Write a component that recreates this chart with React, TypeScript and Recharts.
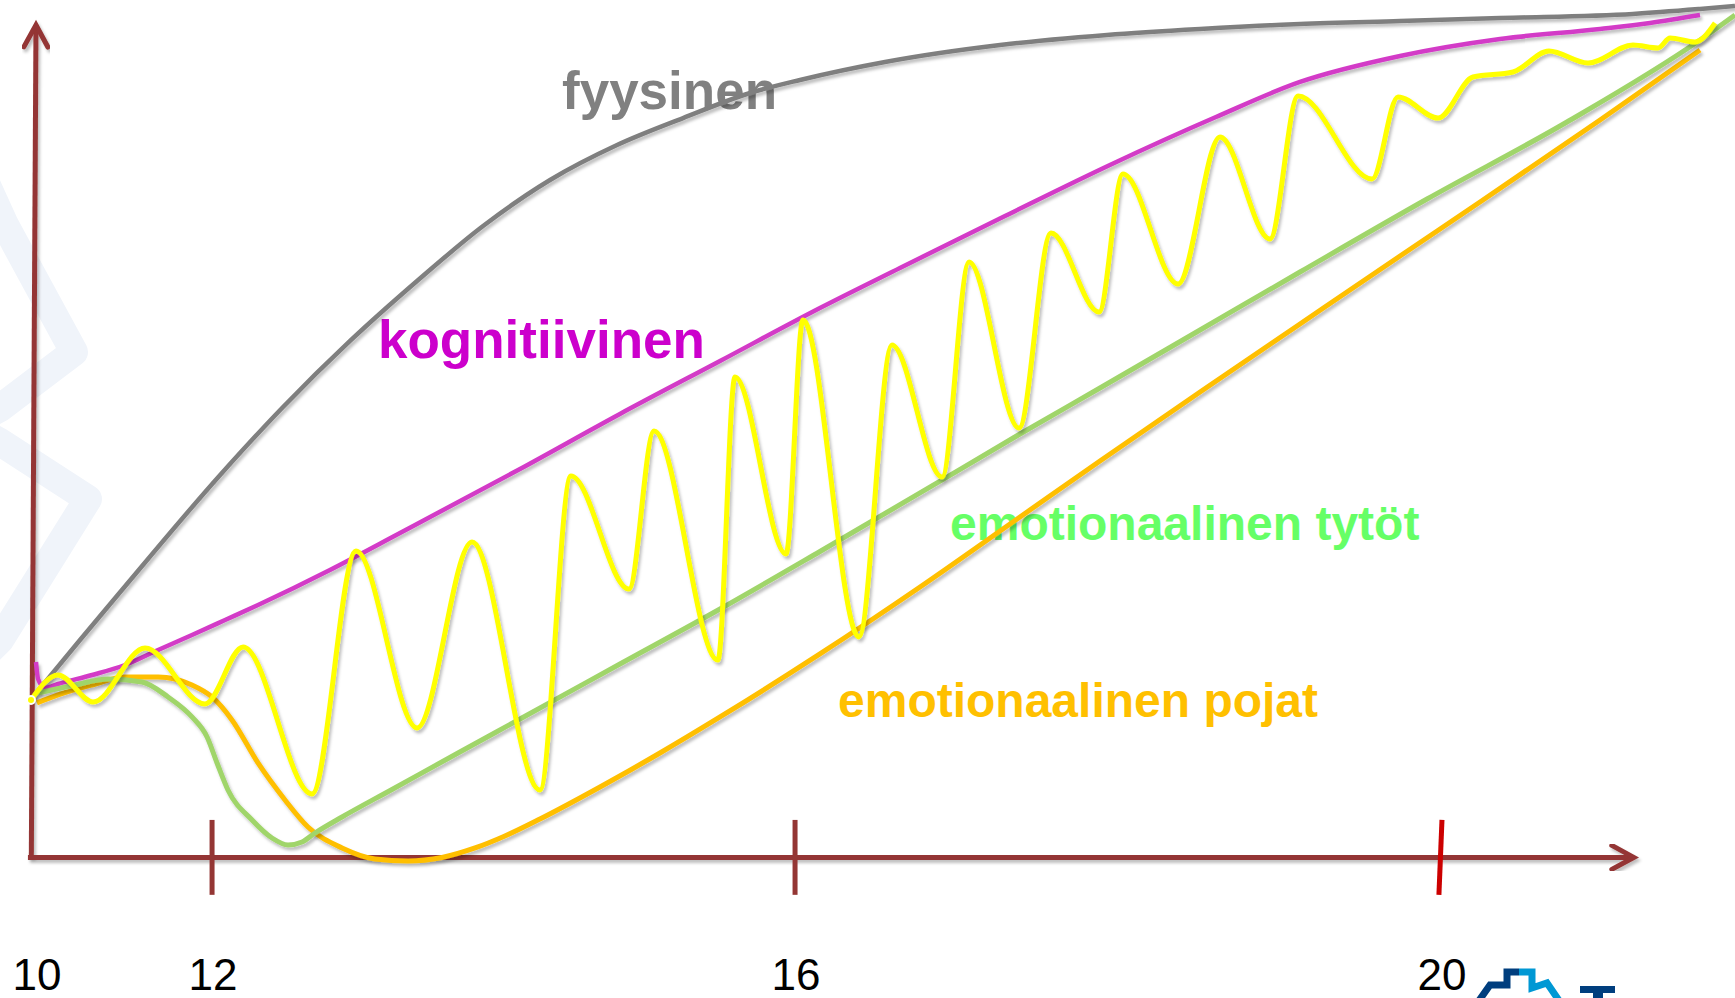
import React from 'react';
import { LineChart, Line, XAxis, YAxis, ReferenceLine } from 'recharts';

// x: position along the age axis (0 = age 10, 100 = arrow tip), y: development level
const fyysinen: [number, number][] = [
  [0.05, 19.27], [2.98, 26.12], [5.59, 32.12], [11.76, 46.06], [15.62, 54.11],
  [19.79, 62.04], [23.96, 69.24], [28.07, 75.85], [32.24, 81.38], [36.41, 85.58],
  [40.52, 88.82], [44.69, 91.83], [47.8, 93.39], [53.09, 95.55], [60.25, 97.59],
  [66.91, 98.8], [72.7, 99.52], [78.92, 100.12], [85.15, 100.48], [91.37, 100.84],
  [99.65, 101.32], [103.82, 101.92], [106.0, 102.28],
];

const kognitiivinen: [number, number][] = [
  [0.24, 23.47], [0.37, 21.43], [0.8, 20.35], [1.61, 20.83], [3.73, 21.91],
  [5.78, 23.11], [7.84, 24.92], [9.95, 26.72], [12.01, 28.52], [14.06, 30.32],
  [18.54, 34.53], [22.9, 38.97], [30.37, 46.66], [36.59, 53.27], [42.82, 59.63],
  [49.04, 66.0], [54.02, 70.81], [60.56, 77.05], [67.09, 83.18], [73.69, 88.94],
  [78.92, 93.15], [85.15, 96.27], [91.37, 98.31], [97.6, 99.52], [100.71, 100.24],
  [103.82, 101.2],
];

const tytot: [number, number][] = [
  [0.37, 19.75], [2.67, 20.71], [4.72, 21.43], [6.84, 21.07], [8.46, 19.27],
  [9.95, 16.87], [10.89, 14.46], [11.51, 11.34], [12.19, 8.1], [13.69, 4.49],
  [14.93, 2.33], [15.93, 1.49], [16.8, 1.85], [17.61, 2.93], [19.29, 4.85],
  [22.4, 8.16], [26.51, 12.54], [30.37, 16.63], [36.59, 23.23], [42.82, 29.84],
  [49.04, 36.75], [55.27, 43.78], [61.49, 50.86], [66.47, 56.39], [72.7, 63.36],
  [78.92, 70.32], [86.83, 79.09], [95.54, 88.34], [103.82, 98.19], [106.0, 101.2],
];

const pojat: [number, number][] = [
  [0.3, 18.55], [1.61, 19.51], [3.73, 20.71], [5.78, 21.67], [7.84, 21.67],
  [9.95, 20.71], [11.2, 19.27], [12.44, 16.51], [14.06, 11.34], [15.74, 6.9],
  [17.17, 3.65], [19.29, 1.13], [21.34, -0.19], [23.4, -0.43], [25.51, -0.01],
  [27.57, 1.13], [29.43, 2.57], [31.61, 4.61], [35.35, 8.46], [39.08, 12.54],
  [42.82, 16.87], [49.04, 24.44], [55.27, 32.48], [61.49, 40.89], [66.47, 47.62],
  [72.7, 55.91], [78.92, 64.08], [85.15, 72.25], [90.31, 78.97], [97.6, 88.58],
  [103.82, 96.99],
];

const heilahtelu: [number, number][] = [
  [-0.07, 18.91], [1.61, 21.91], [3.79, 18.67], [7.03, 25.16], [10.76, 18.43],
  [13.13, 25.28], [17.42, 7.62], [20.16, 36.81], [23.96, 15.55], [27.38, 37.89],
  [31.61, 8.1], [33.54, 45.82], [37.15, 32.24], [38.71, 51.22], [42.69, 23.71],
  [43.75, 57.71], [46.93, 36.45], [47.98, 64.56], [51.47, 26.48], [53.52, 61.56],
  [56.64, 45.7], [58.32, 71.53], [61.43, 51.58], [63.42, 75.01], [66.41, 65.52],
  [67.9, 82.1], [71.33, 68.88], [73.94, 86.54], [77.05, 74.29], [78.8, 91.47],
  [83.41, 81.5], [85.02, 91.35], [87.51, 88.82], [89.69, 93.75], [92.18, 94.35],
  [94.42, 96.87], [96.85, 95.43], [99.65, 97.59], [101.21, 97.23], [101.96, 98.44],
  [103.51, 97.95], [104.76, 100.24],
];

const tickPositions = [0.3, 11.26, 47.55, 87.76];
const tickLabels = ['10', '12', '16', '20'];

const FONT = '"Liberation Sans", Arial, Helvetica, sans-serif';
const AXIS = '#943634';

const toRows = (pts: [number, number][]) => pts.map(([x, y]) => ({ x, y }));

const ArrowLine = (props: any) => {
  const { x1, y1, x2, y2 } = props;
  if ([x1, y1, x2, y2].some((v) => typeof v !== 'number')) return null;
  const len = Math.hypot(x2 - x1, y2 - y1) || 1;
  const ux = (x2 - x1) / len;
  const uy = (y2 - y1) / len;
  const back = 22;
  const half = 12;
  const ax = x2 - ux * back - uy * half;
  const ay = y2 - uy * back + ux * half;
  const bx = x2 - ux * back + uy * half;
  const by = y2 - uy * back - ux * half;
  return (
    <g filter="url(#shadow)">
      <line x1={x1} y1={y1} x2={x2} y2={y2} stroke={AXIS} strokeWidth={5} />
      <polyline
        points={`${ax},${ay} ${x2},${y2} ${bx},${by}`}
        fill="none"
        stroke={AXIS}
        strokeWidth={5}
        strokeLinejoin="miter"
        strokeLinecap="round"
      />
    </g>
  );
};

const AgeTick = (props: any) => {
  const { x, y, payload } = props;
  const i = tickPositions.indexOf(payload.value);
  return (
    <text x={x} y={y + 91} textAnchor="middle" fontSize={44} fontFamily={FONT} fill="#000">
      {tickLabels[i]}
    </text>
  );
};

export default function App() {
  return (
    <div style={{ position: 'absolute', left: 0, top: 0, width: 1735, height: 998, background: '#fff', overflow: 'hidden' }}>
      <svg width={1735} height={998} style={{ position: 'absolute', left: 0, top: 0 }}>
        {/* faint watermark chevrons */}
        <g fill="none" stroke="#F0F4FA" strokeWidth={28} strokeLinecap="round" strokeLinejoin="round">
          <polyline points="-20,170 5,225 74,352 0,408 -30,425" />
          <polyline points="-30,425 0,442 88,499 0,640 -20,660" />
        </g>
        <g fontFamily={FONT} fontWeight="bold">
          <text x={562} y={109} fontSize={53} fill="#808080">fyysinen</text>
          <text x={378} y={358} fontSize={53} fill="#CC00CC">kognitiivinen</text>
          <text x={950} y={540} fontSize={48} fill="#66FF66">emotionaalinen tytöt</text>
          <text x={838} y={717} fontSize={48} fill="#FFC000">emotionaalinen pojat</text>
        </g>
        {/* logo fragment */}
        <polyline points="1478,1002 1490,985 1507,985 1507,972 1519,972" fill="none" stroke="#003E7E" strokeWidth={7} />
        <polyline points="1519,972 1532,972 1532,988 1547,983 1560,1002" fill="none" stroke="#0098D4" strokeWidth={7} />
        <rect x={1580} y={986} width={35} height={7} fill="#003E7E" />
        <rect x={1593} y={990} width={10} height={10} fill="#003E7E" />
      </svg>
      <div style={{ position: 'absolute', left: 0, top: 0 }}>
        <LineChart width={1735} height={998} margin={{ top: 0, right: 0, bottom: 0, left: 0 }}>
          <defs>
            <filter id="shadow" x="-5%" y="-5%" width="110%" height="110%">
              <feDropShadow dx={2} dy={3} stdDeviation={1.5} floodColor="#000" floodOpacity={0.25} />
            </filter>
          </defs>
          <XAxis
            type="number"
            dataKey="x"
            domain={[-2, 106]}
            ticks={tickPositions}
            interval={0}
            height={99}
            axisLine={false}
            tickLine={false}
            tickSize={0}
            tickMargin={0}
            tick={<AgeTick />}
            allowDataOverflow
          />
          <YAxis type="number" dataKey="y" domain={[-5, 103]} hide allowDataOverflow />
          <ReferenceLine segment={[{ x: -0.05, y: 0 }, { x: 0.24, y: 100 }]} shape={ArrowLine} ifOverflow="visible" />
          <ReferenceLine segment={[{ x: -0.26, y: 0 }, { x: 99.7, y: 0 }]} shape={ArrowLine} ifOverflow="visible" />
          <ReferenceLine segment={[{ x: 11.2, y: 4.5 }, { x: 11.2, y: -4.5 }]} stroke={AXIS} strokeWidth={5} ifOverflow="visible" />
          <ReferenceLine segment={[{ x: 47.49, y: 4.5 }, { x: 47.49, y: -4.5 }]} stroke={AXIS} strokeWidth={5} ifOverflow="visible" />
          <ReferenceLine segment={[{ x: 87.76, y: 4.5 }, { x: 87.57, y: -4.5 }]} stroke="#CC0000" strokeWidth={5} ifOverflow="visible" />
          <Line data={toRows(fyysinen)} dataKey="y" type="monotone" stroke="#7F7F7F" strokeWidth={4.5} dot={false} isAnimationActive={false} filter="url(#shadow)" />
          <Line data={toRows(kognitiivinen)} dataKey="y" type="monotone" stroke="#D33BC7" strokeWidth={4.5} dot={false} isAnimationActive={false} filter="url(#shadow)" />
          <Line data={toRows(pojat)} dataKey="y" type="monotone" stroke="#FFBF00" strokeWidth={5} dot={false} isAnimationActive={false} filter="url(#shadow)" />
          <Line data={toRows(tytot)} dataKey="y" type="monotone" stroke="#A0D56B" strokeWidth={5} dot={false} isAnimationActive={false} filter="url(#shadow)" />
          <Line data={toRows(heilahtelu)} dataKey="y" type="monotone" stroke="#FFFF00" strokeWidth={5} dot={false} isAnimationActive={false} filter="url(#shadow)" />
        </LineChart>
      </div>
    </div>
  );
}
